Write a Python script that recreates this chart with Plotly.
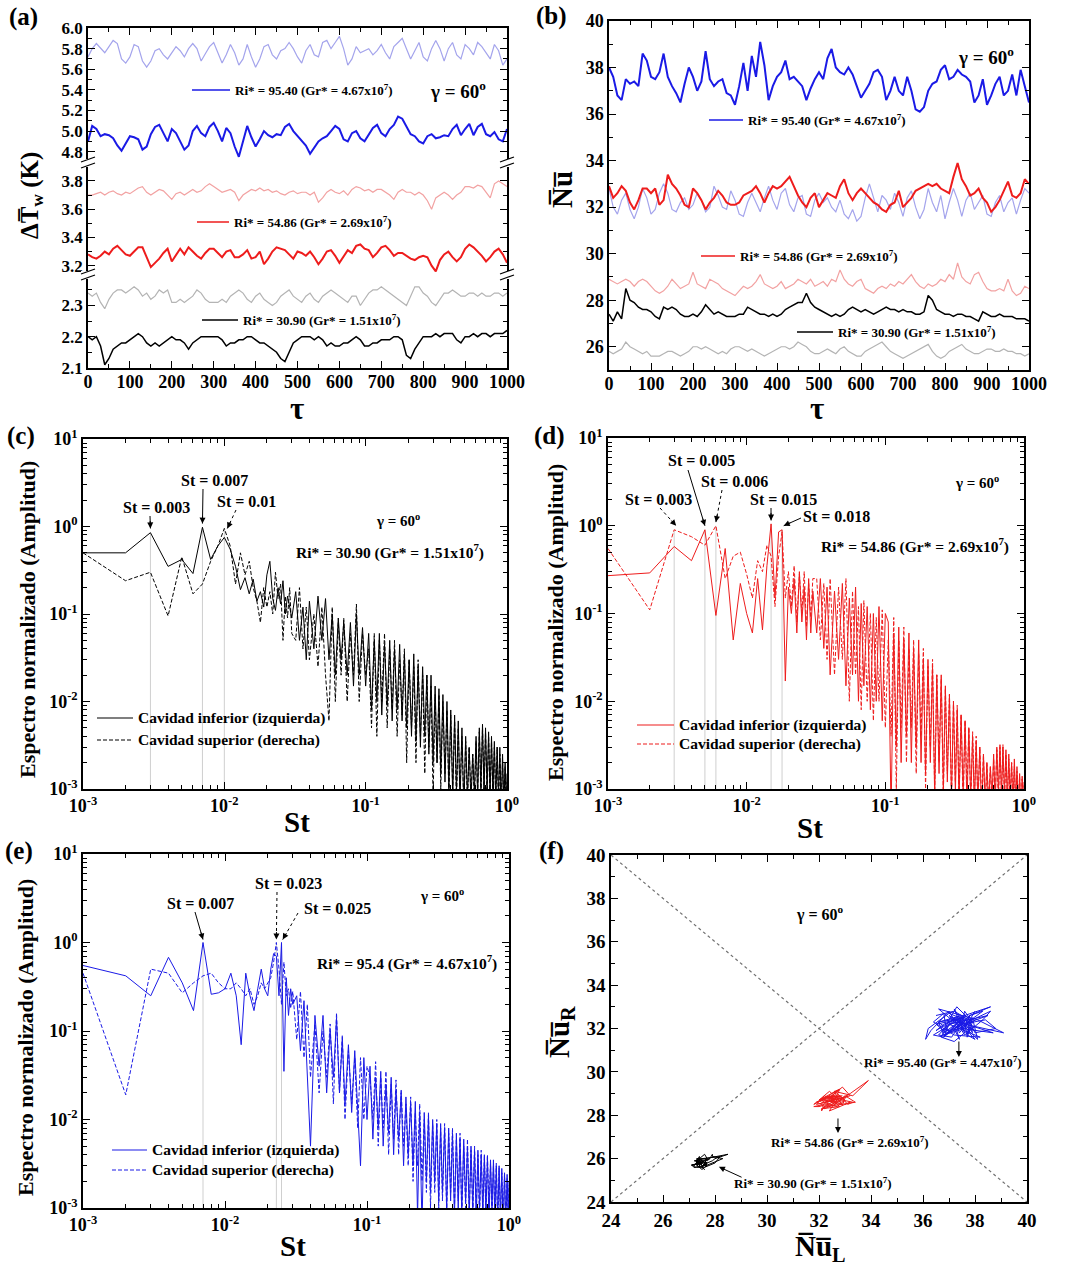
import math
import plotly.graph_objects as go

W, H = 1066, 1270
FONT = "Liberation Serif"

# ---------------- time series (tau step 10) ----------------
TAU = list(range(0, 1001, 10))

# Panel (a): wall temperature difference
dT95_R = [5.72, 5.80, 5.85, 5.80, 5.76, 5.82, 5.88, 5.85, 5.70, 5.66,
          5.72, 5.84, 5.82, 5.68, 5.62, 5.68, 5.78, 5.80, 5.74, 5.70,
          5.76, 5.82, 5.78, 5.72, 5.80, 5.85, 5.80, 5.68, 5.75, 5.82,
          5.86, 5.76, 5.66, 5.74, 5.84, 5.76, 5.64, 5.70, 5.84, 5.72,
          5.62, 5.70, 5.82, 5.84, 5.74, 5.70, 5.78, 5.80, 5.86, 5.80,
          5.72, 5.66, 5.78, 5.84, 5.74, 5.72, 5.86, 5.88, 5.80, 5.86,
          5.92, 5.80, 5.64, 5.70, 5.82, 5.76, 5.78, 5.80, 5.74, 5.78,
          5.84, 5.76, 5.70, 5.82, 5.86, 5.90, 5.80, 5.70, 5.78, 5.86,
          5.72, 5.68, 5.80, 5.88, 5.80, 5.68, 5.80, 5.86, 5.74, 5.70,
          5.84, 5.80, 5.74, 5.86, 5.82, 5.76, 5.70, 5.84, 5.78, 5.64,
          5.70]
dT95_L = [4.90, 5.05, 5.02, 4.95, 4.97, 4.96, 4.93, 4.86, 4.81, 4.88,
          4.95, 4.94, 4.92, 4.82, 4.85, 4.97, 5.04, 5.06, 4.98, 4.90,
          5.02, 4.98, 4.90, 4.82, 4.86, 5.00, 5.05, 4.98, 4.95, 5.04,
          5.08, 5.00, 4.90, 5.03, 4.98, 4.85, 4.75, 4.90, 5.05, 4.94,
          4.85, 4.92, 5.00, 4.96, 4.94, 4.97, 4.96, 5.04, 5.07, 5.00,
          4.95, 4.90, 4.86, 4.78, 4.84, 4.90, 4.93, 4.95, 5.00, 5.05,
          5.02, 4.92, 4.90, 4.98, 5.00, 4.93, 4.90, 4.97, 5.03, 5.06,
          4.98, 4.95, 5.02, 5.06, 5.14, 5.12, 5.05, 4.97, 4.95, 4.90,
          4.88, 4.95, 4.97, 4.93, 4.94, 4.96, 4.95, 5.02, 5.06, 4.96,
          5.02, 5.07, 4.96, 5.04, 5.07, 4.97, 4.95, 4.99, 4.92, 4.90,
          5.02]
dT54_R = [3.70, 3.70, 3.71, 3.72, 3.70, 3.72, 3.73, 3.71, 3.70, 3.72,
          3.71, 3.73, 3.75, 3.76, 3.72, 3.70, 3.72, 3.74, 3.73, 3.70,
          3.67, 3.71, 3.72, 3.70, 3.72, 3.74, 3.72, 3.73, 3.76, 3.78,
          3.76, 3.74, 3.72, 3.73, 3.74, 3.72, 3.66, 3.70, 3.72, 3.74,
          3.73, 3.75, 3.73, 3.74, 3.72, 3.73, 3.71, 3.70, 3.72, 3.73,
          3.71, 3.72, 3.72, 3.70, 3.72, 3.65, 3.68, 3.72, 3.74, 3.72,
          3.71, 3.73, 3.70, 3.74, 3.76, 3.75, 3.73, 3.74, 3.72, 3.74,
          3.74, 3.72, 3.70, 3.67, 3.72, 3.74, 3.72, 3.72, 3.70, 3.72,
          3.70, 3.66, 3.60, 3.68, 3.70, 3.72, 3.70, 3.67, 3.70, 3.72,
          3.76, 3.76, 3.75, 3.77, 3.76, 3.72, 3.68, 3.78, 3.80, 3.78,
          3.76]
dT54_L = [3.28, 3.26, 3.25, 3.27, 3.30, 3.28, 3.32, 3.34, 3.31, 3.28,
          3.27, 3.30, 3.33, 3.33, 3.26, 3.19, 3.22, 3.25, 3.29, 3.32,
          3.23, 3.28, 3.32, 3.28, 3.33, 3.30, 3.27, 3.25, 3.29, 3.32,
          3.32, 3.29, 3.26, 3.30, 3.31, 3.26, 3.26, 3.28, 3.31, 3.25,
          3.26, 3.30, 3.21, 3.25, 3.30, 3.33, 3.32, 3.31, 3.28, 3.25,
          3.30, 3.29, 3.27, 3.30, 3.26, 3.21, 3.25, 3.30, 3.31, 3.27,
          3.22, 3.27, 3.31, 3.29, 3.34, 3.35, 3.32, 3.31, 3.26, 3.29,
          3.33, 3.34, 3.31, 3.27, 3.29, 3.29, 3.27, 3.25, 3.24, 3.26,
          3.27, 3.26, 3.20, 3.16, 3.24, 3.28, 3.30, 3.26, 3.23, 3.26,
          3.32, 3.35, 3.33, 3.30, 3.27, 3.23, 3.26, 3.30, 3.32, 3.28,
          3.22]
dT30_R = [2.34, 2.33, 2.34, 2.31, 2.29, 2.32, 2.34, 2.35, 2.35, 2.34,
          2.35, 2.36, 2.35, 2.33, 2.34, 2.32, 2.33, 2.35, 2.34, 2.35,
          2.31, 2.31, 2.32, 2.31, 2.32, 2.33, 2.35, 2.34, 2.32, 2.31,
          2.31, 2.31, 2.32, 2.31, 2.33, 2.34, 2.35, 2.34, 2.32, 2.31,
          2.33, 2.34, 2.32, 2.31, 2.30, 2.31, 2.33, 2.34, 2.35, 2.33,
          2.32, 2.31, 2.33, 2.34, 2.32, 2.31, 2.33, 2.34, 2.35, 2.34,
          2.33, 2.32, 2.31, 2.33, 2.33, 2.30, 2.32, 2.34, 2.35, 2.35,
          2.36, 2.35, 2.34, 2.33, 2.32, 2.31, 2.30, 2.33, 2.36, 2.36,
          2.34, 2.33, 2.31, 2.30, 2.32, 2.34, 2.34, 2.35, 2.34, 2.33,
          2.33, 2.34, 2.34, 2.33, 2.34, 2.33, 2.33, 2.34, 2.34, 2.33,
          2.34]
dT30_L = [2.20, 2.19, 2.20, 2.17, 2.11, 2.13, 2.16, 2.17, 2.18, 2.18,
          2.19, 2.20, 2.21, 2.20, 2.18, 2.17, 2.18, 2.17, 2.18, 2.19,
          2.20, 2.19, 2.19, 2.18, 2.16, 2.18, 2.19, 2.20, 2.20, 2.20,
          2.20, 2.20, 2.19, 2.17, 2.18, 2.18, 2.19, 2.19, 2.20, 2.20,
          2.19, 2.18, 2.18, 2.17, 2.16, 2.15, 2.13, 2.12, 2.15, 2.18,
          2.19, 2.20, 2.20, 2.20, 2.19, 2.20, 2.19, 2.17, 2.18, 2.17,
          2.17, 2.18, 2.18, 2.19, 2.20, 2.19, 2.17, 2.17, 2.18, 2.18,
          2.19, 2.19, 2.19, 2.20, 2.20, 2.19, 2.14, 2.13, 2.16, 2.18,
          2.20, 2.20, 2.20, 2.21, 2.20, 2.21, 2.21, 2.21, 2.19, 2.18,
          2.20, 2.20, 2.21, 2.20, 2.21, 2.21, 2.20, 2.21, 2.21, 2.21,
          2.22]

# Panel (b): Nusselt numbers (L = lower/left cavity, R = upper/right cavity)
Nu95_L = [38.0, 37.6, 36.8, 36.6, 37.5, 37.3, 37.4, 37.2, 38.6, 38.3,
          37.6, 37.5, 37.8, 38.6, 37.6, 37.2, 36.9, 36.5, 37.3, 38.0,
          37.6, 37.0, 37.4, 38.7, 37.5, 37.2, 37.4, 37.5, 36.9, 36.8,
          36.4, 37.2, 38.2, 37.0, 38.5, 37.6, 39.1, 38.1, 36.6, 37.2,
          37.6, 37.8, 38.3, 37.5, 37.6, 37.4, 37.2, 36.6, 37.1, 37.5,
          37.8, 37.5, 38.4, 38.8, 38.0, 37.8, 37.7, 38.0, 37.7, 37.2,
          36.7, 37.0, 37.3, 37.8, 37.9, 37.6, 36.6, 37.0, 37.6, 37.0,
          36.8, 37.6, 37.0, 36.2, 36.1, 36.3, 37.0, 37.3, 37.4, 37.9,
          38.1, 37.5, 37.6, 37.9, 37.7, 37.6, 37.4, 36.5, 36.8, 37.5,
          36.4, 36.8, 37.3, 37.6, 36.8, 37.0, 37.7, 36.8, 37.9, 37.2,
          36.5]
Nu95_R = [32.8, 32.0, 31.7, 32.3, 32.6, 31.9, 31.5, 32.0, 32.8, 32.4,
          31.7, 31.9, 32.6, 33.0, 32.6, 31.9, 31.8, 32.2, 32.4, 31.9,
          32.1, 32.6, 32.3, 31.8, 32.0, 32.9, 32.5, 32.0, 31.9, 32.7,
          32.3, 31.7, 31.6, 32.2, 32.6, 32.2, 31.8, 32.4, 32.9, 32.3,
          31.9, 32.6, 32.8, 32.1, 31.8, 32.4, 32.5, 31.7, 31.6, 32.3,
          32.6, 32.2, 32.4, 32.0, 31.8, 32.3, 31.7, 31.5, 31.9, 31.4,
          31.6, 32.4, 33.0, 32.4, 31.8, 32.5, 32.3, 31.9, 32.6, 32.2,
          31.6, 32.4, 32.7, 32.0, 31.5, 31.9, 32.8, 32.2, 31.8, 32.5,
          31.5, 32.2, 32.8, 32.3, 31.6, 32.3, 32.6, 31.9, 32.2, 32.5,
          31.7, 31.6, 32.2, 32.5, 31.8, 32.2, 32.4, 31.7, 32.3, 32.8,
          32.6]
Nu54_L = [32.9, 32.4, 32.6, 32.9, 32.7, 32.2, 31.9, 32.3, 32.8, 32.8,
          32.6, 32.8, 32.1, 32.3, 33.4, 33.0, 32.8, 32.5, 32.1, 32.0,
          32.8, 32.6, 32.3, 31.9, 32.2, 32.4, 32.7, 32.5, 32.2, 32.1,
          32.1, 32.2, 32.5, 32.6, 32.7, 32.9, 32.6, 32.2, 32.6, 32.9,
          32.8, 32.9, 33.1, 33.3, 32.9, 32.5, 32.2, 32.0, 32.4, 32.6,
          32.0, 32.3, 32.6, 32.5, 32.4, 32.9, 33.2, 32.6, 32.3, 32.6,
          32.8, 32.6, 32.4, 32.2, 32.1, 31.9, 31.8, 32.1, 32.2, 32.7,
          32.0, 32.2, 32.4, 32.7, 32.8, 32.9, 33.0, 32.9, 33.0, 32.8,
          32.7, 32.6, 33.3, 33.9, 33.2, 32.9, 32.5, 32.6, 32.8, 32.4,
          32.2, 31.8, 32.0, 32.3, 32.7, 33.1, 32.5, 32.4, 32.6, 33.2,
          33.0]
Nu54_R = [28.9, 28.8, 28.7, 28.8, 28.9, 28.8, 28.6, 28.8, 28.9, 28.8,
          28.6, 28.4, 28.3, 28.4, 28.6, 28.9, 28.7, 28.5, 28.6, 28.7,
          29.2, 28.7, 28.6, 28.5, 28.9, 28.8, 28.7, 28.5, 28.4, 28.3,
          28.2, 28.4, 28.6, 28.5, 28.6, 28.8, 29.1, 28.7, 28.6, 28.5,
          28.6, 28.8, 28.5, 28.6, 28.7, 28.9, 28.8, 28.7, 28.9, 28.6,
          28.7, 28.8, 28.6, 28.9, 28.8, 29.3, 28.9, 28.7, 28.6, 28.8,
          28.9, 28.5, 28.4, 28.3, 28.5, 28.6, 28.5, 28.7, 28.6, 28.8,
          28.7, 28.9, 29.1, 28.8, 28.6, 28.5, 28.7, 28.6, 28.7, 28.9,
          28.8, 29.1, 28.9, 29.6, 29.0, 28.8, 28.7, 29.1, 29.2, 28.8,
          28.5, 28.4, 28.4, 28.5, 28.4, 28.9, 28.4, 28.2, 28.3, 28.6,
          28.5]
Nu30_L = [27.4, 27.1, 27.5, 27.2, 28.5, 28.0, 27.9, 27.7, 27.6, 27.6,
          27.5, 27.3, 27.2, 27.7, 27.6, 27.7, 27.6, 27.4, 27.3, 27.3,
          27.4, 27.3, 27.5, 27.8, 27.6, 27.4, 27.5, 27.4, 27.3, 27.3,
          27.3, 27.4, 27.4, 27.7, 27.6, 27.5, 27.4, 27.4, 27.3, 27.4,
          27.3, 27.4, 27.6, 27.7, 27.8, 27.9, 27.9, 28.3, 27.9, 27.7,
          27.6, 27.5, 27.4, 27.3, 27.4, 27.3, 27.4, 27.6, 27.7, 27.6,
          27.5, 27.6, 27.5, 27.4, 27.5, 27.6, 27.7, 27.6, 27.6, 27.5,
          27.6, 27.5, 27.5, 27.4, 27.4, 27.5, 28.2, 28.0, 27.6, 27.5,
          27.4, 27.4, 27.3, 27.4, 27.4, 27.3, 27.3, 27.2, 27.1, 27.5,
          27.4, 27.3, 27.3, 27.4, 27.3, 27.3, 27.3, 27.2, 27.2, 27.2,
          27.1]
Nu30_R = [25.8, 25.7, 25.8, 25.9, 26.2, 26.0, 25.9, 25.8, 25.7, 25.8,
          25.6, 25.6, 25.6, 25.7, 25.8, 25.8, 25.7, 25.6, 25.7, 25.8,
          26.0, 26.0, 25.9, 26.0, 25.9, 25.8, 25.7, 25.8, 25.7, 25.9,
          26.0, 26.0, 25.9, 25.8, 25.9, 25.8, 25.7, 25.6, 25.7, 25.8,
          25.9, 26.0, 26.0, 25.9, 26.0, 26.2, 26.1, 26.0, 25.8, 25.7,
          25.7, 25.8, 25.9, 25.8, 25.7, 25.9, 26.0, 25.8, 25.7, 25.6,
          25.6, 25.8, 25.9, 26.0, 26.1, 26.2, 26.0, 25.8, 25.7, 25.6,
          25.5, 25.6, 25.7, 25.8, 25.9, 26.0, 26.1, 25.8, 25.6, 25.5,
          25.6, 25.8, 25.9, 26.0, 26.1, 25.9, 25.8, 25.7, 25.7, 25.8,
          25.9, 25.9, 25.8, 25.8, 25.9, 25.8, 25.8, 25.7, 25.7, 25.6,
          25.7]

# ---------------- spectra ----------------
ST = ([0.001, 0.002, 0.003, 0.004, 0.005, 0.006, 0.007, 0.008, 0.009, 0.010,
       0.011, 0.012, 0.013, 0.014, 0.015, 0.016, 0.017, 0.018, 0.019, 0.020,
       0.021, 0.022, 0.023, 0.024, 0.025, 0.026, 0.027, 0.028, 0.029, 0.030] +
      [0.032, 0.034, 0.036, 0.038, 0.040, 0.043, 0.046, 0.049, 0.052, 0.055,
       0.058, 0.061, 0.064, 0.067, 0.070, 0.074, 0.078, 0.082, 0.086, 0.090,
       0.095, 0.100] +
      [0.105, 0.110, 0.115, 0.120, 0.125, 0.130, 0.136, 0.142, 0.148, 0.154,
       0.160, 0.167, 0.174, 0.181, 0.188, 0.195, 0.203, 0.211, 0.219, 0.227,
       0.235, 0.244, 0.253, 0.262, 0.271, 0.280, 0.290, 0.300, 0.310, 0.320,
       0.330, 0.340, 0.352, 0.364, 0.376, 0.388, 0.400, 0.413, 0.426, 0.439,
       0.452, 0.465, 0.480, 0.495, 0.510, 0.525, 0.540, 0.556, 0.572, 0.588,
       0.604, 0.620, 0.637, 0.654, 0.671, 0.688, 0.705, 0.723, 0.741, 0.759,
       0.777, 0.795, 0.814, 0.833, 0.852, 0.871, 0.890, 0.910, 0.930, 0.950,
       0.970, 0.990, 1.000])

S30_inf = ([0.50, 0.50, 0.85, 0.35, 0.42, 0.29, 0.98, 0.42, 0.60, 0.75,
            0.55, 0.35, 0.19, 0.26, 0.17, 0.25, 0.14, 0.18, 0.12, 0.28,
            0.40, 0.15, 0.11, 0.20, 0.13, 0.24, 0.10, 0.16, 0.12, 0.09] +
           [0.18, 0.05, 0.12, 0.03, 0.14, 0.04, 0.16, 0.05, 0.15, 0.03,
            0.10, 0.02, 0.09, 0.03, 0.08, 0.02, 0.08, 0.015, 0.10, 0.02,
            0.07, 0.015] +
           [0.06, 0.008, 0.05, 0.01, 0.06, 0.007, 0.045, 0.009, 0.05, 0.006,
            0.04, 0.008, 0.045, 0.006, 0.035, 0.005, 0.03, 0.004, 0.035, 0.0035,
            0.025, 0.003, 0.025, 0.004, 0.02, 0.0025, 0.02, 0.002, 0.015, 0.002,
            0.014, 0.0015, 0.012, 0.0012, 0.010, 0.001, 0.008, 0.0008, 0.007, 0.0009,
            0.006, 0.0007, 0.005, 0.0006, 0.004, 0.0008, 0.003, 0.0007, 0.0025, 0.0009,
            0.004, 0.0008, 0.005, 0.001, 0.0055, 0.0009, 0.005, 0.001, 0.0045, 0.0008,
            0.004, 0.0009, 0.0035, 0.0007, 0.003, 0.0008, 0.003, 0.0006, 0.0025, 0.0007,
            0.002, 0.0006, 0.0015])
S30_sup = ([0.50, 0.24, 0.30, 0.095, 0.45, 0.17, 0.22, 0.40, 0.60, 0.95,
            0.60, 0.22, 0.50, 0.28, 0.40, 0.20, 0.14, 0.08, 0.20, 0.12,
            0.18, 0.10, 0.30, 0.15, 0.22, 0.05, 0.16, 0.09, 0.20, 0.06] +
           [0.05, 0.20, 0.04, 0.12, 0.03, 0.10, 0.025, 0.12, 0.02, 0.006,
            0.12, 0.01, 0.08, 0.02, 0.09, 0.01, 0.06, 0.02, 0.13, 0.01,
            0.06, 0.02] +
           [0.04, 0.005, 0.06, 0.004, 0.05, 0.01, 0.06, 0.005, 0.04, 0.008,
            0.05, 0.004, 0.03, 0.007, 0.04, 0.002, 0.03, 0.005, 0.025, 0.002,
            0.03, 0.004, 0.02, 0.0015, 0.02, 0.003, 0.015, 0.0008, 0.012, 0.002,
            0.012, 0.001, 0.010, 0.0015, 0.008, 0.0008, 0.007, 0.001, 0.006, 0.0007,
            0.005, 0.0009, 0.004, 0.0006, 0.0035, 0.0007, 0.003, 0.0008, 0.0025, 0.0007,
            0.0035, 0.0009, 0.0045, 0.0008, 0.005, 0.001, 0.0045, 0.0008, 0.004, 0.0009,
            0.0035, 0.0007, 0.003, 0.0008, 0.003, 0.0006, 0.0025, 0.0007, 0.002, 0.0006,
            0.0018, 0.0005, 0.0012])

S54_inf = ([0.27, 0.29, 0.58, 0.40, 0.90, 0.095, 0.55, 0.05, 0.22, 0.10,
            0.06, 0.25, 0.065, 0.35, 1.05, 0.15, 0.85, 0.90, 0.017, 0.20,
            0.10, 0.25, 0.06, 0.30, 0.08, 0.20, 0.05, 0.25, 0.06, 0.18] +
           [0.06, 0.25, 0.04, 0.20, 0.02, 0.18, 0.03, 0.22, 0.015, 0.15,
            0.02, 0.20, 0.01, 0.13, 0.015, 0.12, 0.008, 0.10, 0.01, 0.12,
            0.006, 0.10] +
           [0.08, 0.0005, 0.06, 0.003, 0.07, 0.002, 0.05, 0.004, 0.06, 0.002,
            0.04, 0.003, 0.05, 0.002, 0.03, 0.0015, 0.03, 0.002, 0.025, 0.0008,
            0.02, 0.0015, 0.02, 0.001, 0.015, 0.0012, 0.012, 0.0008, 0.01, 0.0009,
            0.008, 0.0007, 0.007, 0.0009, 0.006, 0.0006, 0.005, 0.0008, 0.004, 0.0006,
            0.0035, 0.0007, 0.003, 0.0005, 0.0025, 0.0007, 0.002, 0.0006, 0.0018, 0.0008,
            0.0025, 0.0007, 0.003, 0.0009, 0.0032, 0.0008, 0.003, 0.0009, 0.0028, 0.0007,
            0.0025, 0.0008, 0.002, 0.0006, 0.0022, 0.0007, 0.0018, 0.0006, 0.0015, 0.0005,
            0.0014, 0.0006, 0.0012])
S54_sup = ([0.55, 0.11, 0.90, 0.75, 0.60, 1.00, 0.25, 0.45, 0.50, 0.28,
            0.15, 0.40, 0.30, 0.60, 0.45, 0.12, 0.45, 0.85, 0.15, 0.30,
            0.12, 0.35, 0.08, 0.28, 0.10, 0.30, 0.07, 0.22, 0.09, 0.25] +
           [0.25, 0.05, 0.22, 0.03, 0.25, 0.02, 0.20, 0.03, 0.25, 0.01,
            0.18, 0.02, 0.12, 0.008, 0.14, 0.01, 0.10, 0.006, 0.09, 0.01,
            0.11, 0.005] +
           [0.05, 0.004, 0.09, 0.001, 0.05, 0.005, 0.07, 0.002, 0.04, 0.005,
            0.05, 0.0015, 0.035, 0.004, 0.04, 0.001, 0.025, 0.003, 0.03, 0.0009,
            0.02, 0.002, 0.018, 0.0008, 0.014, 0.0015, 0.012, 0.0007, 0.01, 0.0012,
            0.009, 0.0008, 0.007, 0.0006, 0.006, 0.0009, 0.005, 0.0006, 0.0045, 0.0008,
            0.004, 0.0006, 0.003, 0.0007, 0.0025, 0.0005, 0.002, 0.0007, 0.0018, 0.0006,
            0.0022, 0.0008, 0.0028, 0.0007, 0.003, 0.0009, 0.0032, 0.0007, 0.0025, 0.0008,
            0.0022, 0.0006, 0.002, 0.0007, 0.0018, 0.0006, 0.0016, 0.0007, 0.0014, 0.0006,
            0.0013, 0.0005, 0.0011])

S95_inf = ([0.55, 0.42, 0.25, 0.68, 0.35, 0.17, 1.00, 0.26, 0.27, 0.30,
            0.45, 0.25, 0.07, 0.45, 0.25, 0.17, 0.30, 0.50, 0.30, 0.25,
            0.50, 0.75, 0.70, 0.25, 1.00, 0.035, 0.40, 0.15, 0.30, 0.20] +
           [0.25, 0.06, 0.22, 0.03, 0.005, 0.15, 0.04, 0.15, 0.02, 0.10,
            0.03, 0.14, 0.02, 0.08, 0.015, 0.07, 0.012, 0.06, 0.015, 0.003,
            0.05, 0.01] +
           [0.04, 0.006, 0.03, 0.008, 0.035, 0.005, 0.025, 0.007, 0.03, 0.004,
            0.022, 0.006, 0.02, 0.003, 0.018, 0.004, 0.015, 0.003, 0.016, 0.0008,
            0.012, 0.0006, 0.012, 0.002, 0.011, 0.0015, 0.01, 0.002, 0.009, 0.0012,
            0.009, 0.0015, 0.008, 0.001, 0.008, 0.0012, 0.007, 0.0008, 0.007, 0.001,
            0.006, 0.0009, 0.006, 0.0012, 0.005, 0.0008, 0.005, 0.001, 0.0045, 0.0007,
            0.0045, 0.001, 0.004, 0.0008, 0.004, 0.0009, 0.0038, 0.0007, 0.0035, 0.001,
            0.0035, 0.0008, 0.003, 0.0007, 0.003, 0.0008, 0.0028, 0.0006, 0.0025, 0.0007,
            0.0024, 0.0006, 0.002])
S95_sup = ([0.45, 0.019, 0.50, 0.45, 0.27, 0.35, 0.42, 0.45, 0.35, 0.30,
            0.30, 0.35, 0.30, 0.25, 0.30, 0.20, 0.25, 0.35, 0.30, 0.35,
            0.40, 0.60, 1.00, 0.50, 0.20, 0.60, 0.25, 0.30, 0.18, 0.28] +
           [0.08, 0.28, 0.05, 0.20, 0.03, 0.12, 0.02, 0.10, 0.03, 0.12,
            0.015, 0.16, 0.02, 0.09, 0.01, 0.06, 0.015, 0.05, 0.008, 0.05,
            0.01, 0.04] +
           [0.03, 0.01, 0.045, 0.005, 0.03, 0.008, 0.035, 0.004, 0.025, 0.006,
            0.028, 0.004, 0.022, 0.005, 0.015, 0.003, 0.018, 0.002, 0.012, 0.003,
            0.015, 0.002, 0.01, 0.0015, 0.012, 0.001, 0.009, 0.0015, 0.01, 0.001,
            0.008, 0.0012, 0.009, 0.0009, 0.007, 0.0015, 0.008, 0.001, 0.006, 0.0012,
            0.007, 0.0008, 0.005, 0.001, 0.006, 0.0009, 0.0045, 0.0008, 0.005, 0.001,
            0.004, 0.0007, 0.0045, 0.001, 0.0038, 0.0008, 0.004, 0.0009, 0.0032, 0.0007,
            0.003, 0.0009, 0.0032, 0.0006, 0.0028, 0.0008, 0.0025, 0.0007, 0.0024, 0.0006,
            0.0022, 0.0007, 0.0018])

# ---------------- colours ----------------
BLUE, LBLUE = "#1a1ae6", "#a4a4ec"
RED, LRED = "#ee1c1c", "#f2a2a2"
BLACK, GRAY = "#000000", "#b4b4b4"
DASH = "4px,2px"

# ---------------- helpers ----------------
def px(x):
    return x / W

def py(y):
    return 1 - y / H

annotations = []
shapes = []

def text(xp, yp, s, size, xanchor="center", angle=0):
    annotations.append(dict(x=px(xp), y=py(yp), xref="paper", yref="paper",
                            text="<b>%s</b>" % s, showarrow=False,
                            font=dict(family=FONT, size=size, color="black"),
                            xanchor=xanchor, yanchor="middle", textangle=angle))

def seg(x0, y0, x1, y1, color="black", width=1.5, dash="solid"):
    shapes.append(dict(type="line", xref="paper", yref="paper",
                       x0=px(x0), y0=py(y0), x1=px(x1), y1=py(y1),
                       line=dict(color=color, width=width, dash=dash)))

def legend_line(x0, x1, y, color, label, size, dash="solid", width=1.5):
    seg(x0, y, x1, y, color=color, width=width, dash=dash)
    text(x1 + 3, y, label, size, xanchor="left")

TF = dict(family=FONT, size=18, color="black", weight="bold")

def axis(**kw):
    d = dict(showline=True, linecolor="black", linewidth=1.5, ticks="inside",
             ticklen=7, tickwidth=1.3, tickcolor="black", mirror="ticks",
             showgrid=False, zeroline=False, tickfont=TF, automargin=False)
    d.update(kw)
    return d

def minor(dtick=None, tickvals=None):
    m = dict(ticks="inside", ticklen=4, tickwidth=1.1, tickcolor="black", showgrid=False)
    if dtick is not None:
        m["dtick"] = dtick
        m["tick0"] = 0
    if tickvals is not None:
        m["tickvals"] = tickvals
    return m

def dom_x(l, r):
    return [l / W, r / W]

def dom_y(t, b):
    return [1 - b / H, 1 - t / H]

fig = go.Figure()

def line(x, y, xa, ya, color, width, dash="solid"):
    fig.add_trace(go.Scatter(x=x, y=y, xaxis=xa, yaxis=ya, mode="lines",
                             line=dict(color=color, width=width, dash=dash),
                             showlegend=False, hoverinfo="skip"))

# ---------------- panel (a) ----------------
line(TAU, dT95_R, "x", "y", LBLUE, 1.2)
line(TAU, dT95_L, "x", "y", BLUE, 2.0)
line(TAU, dT54_R, "x2", "y2", LRED, 1.2)
line(TAU, dT54_L, "x2", "y2", RED, 2.0)
line(TAU, dT30_R, "x3", "y3", GRAY, 1.2)
line(TAU, dT30_L, "x3", "y3", BLACK, 1.5)

# ---------------- panel (b) ----------------
line(TAU, Nu95_L, "x4", "y4", BLUE, 2.0)
line(TAU, Nu95_R, "x4", "y4", LBLUE, 1.2)
line(TAU, Nu54_R, "x4", "y4", LRED, 1.2)
line(TAU, Nu54_L, "x4", "y4", RED, 2.0)
line(TAU, Nu30_R, "x4", "y4", GRAY, 1.2)
line(TAU, Nu30_L, "x4", "y4", BLACK, 1.5)

# ---------------- spectra (c), (d), (e) ----------------
LOGP = {"c": (83, 507, 439, 789, "x5", "y5"),
        "d": (608, 1024, 438, 789, "x6", "y6"),
        "e": (83, 509, 854, 1208, "x7", "y7")}

def faint(panel, st, inf, sup):
    i = ST.index(st)
    top = max(inf[i], sup[i])
    xa, ya = LOGP[panel][4], LOGP[panel][5]
    line([st, st], [top, 0.0009], xa, ya, "#cfcfcf", 1)

def spec_arrow(panel, st, amp, tx, ty, sx, sy, label, dotted):
    L, R, T, B, xr, yr = LOGP[panel]
    X = L + (math.log10(st) + 3) / 3 * (R - L)
    Y = T + (1 - math.log10(amp)) / 4 * (B - T)
    seg(sx, sy, X, Y, width=1, dash="dot" if dotted else "solid")
    dx, dy = sx - X, sy - Y
    n = math.hypot(dx, dy)
    annotations.append(dict(x=math.log10(st), y=math.log10(amp), xref=xr, yref=yr,
                            text="", showarrow=True, arrowhead=2, arrowsize=1.2,
                            arrowwidth=1, arrowcolor="black",
                            ax=dx / n * 9, ay=dy / n * 9, standoff=0))
    text(tx, ty, label, 16)

for st in (0.003, 0.007, 0.010):
    faint("c", st, S30_inf, S30_sup)
for st in (0.003, 0.005, 0.006, 0.015, 0.018):
    faint("d", st, S54_inf, S54_sup)
for st in (0.007, 0.023, 0.025):
    faint("e", st, S95_inf, S95_sup)

line(ST, S30_sup, "x5", "y5", BLACK, 1, DASH)
line(ST, S30_inf, "x5", "y5", BLACK, 1)
line(ST, S54_sup, "x6", "y6", RED, 1, DASH)
line(ST, S54_inf, "x6", "y6", RED, 1)
line(ST, S95_sup, "x7", "y7", BLUE, 1, DASH)
line(ST, S95_inf, "x7", "y7", BLUE, 1)

# ---------------- panel (f) ----------------
line(Nu95_L, Nu95_R, "x8", "y8", BLUE, 1)
line(Nu54_L, Nu54_R, "x8", "y8", RED, 1)
line(Nu30_L, Nu30_R, "x8", "y8", BLACK, 1)
for (a0, b0, a1, b1) in ((24, 24, 40, 40), (24, 40, 40, 24)):
    shapes.append(dict(type="line", xref="x8", yref="y8", x0=a0, y0=b0, x1=a1, y1=b1,
                       line=dict(color="#707070", width=1.2, dash="dot"), layer="below"))

# ---------------- axes ----------------
XA = dom_x(88, 507)
LOG_TV = [0.001, 0.01, 0.1, 1, 10]
LOG_TT = ["10<sup>-3</sup>", "10<sup>-2</sup>", "10<sup>-1</sup>", "10<sup>0</sup>", "10<sup>1</sup>"]
LOG_MINOR = [m * 10 ** e for e in range(-3, 1) for m in range(2, 10)]
LTF = dict(TF, size=18)

lay = dict(
    width=W, height=H, margin=dict(l=0, r=0, t=0, b=0, autoexpand=False),
    paper_bgcolor="white", plot_bgcolor="white", showlegend=False,
    font=dict(family=FONT, color="black"),
    # (a)
    xaxis=axis(domain=XA, anchor="y", range=[0, 1000], side="top", mirror=False,
               showticklabels=False, dtick=100, tick0=0, minor=minor(50)),
    yaxis=axis(domain=dom_y(28, 163), anchor="x", range=[4.69, 6.0005], dtick=0.2, tick0=0,
               tickformat=".1f", minor=minor(0.1), tickfont=dict(TF, size=17)),
    xaxis2=dict(domain=XA, anchor="y2", range=[0, 1000], visible=False),
    yaxis2=axis(domain=dom_y(163, 275), anchor="x2", range=[3.134, 3.927], dtick=0.2, tick0=0,
                tickformat=".1f", minor=minor(0.1), tickfont=dict(TF, size=17)),
    xaxis3=axis(domain=XA, anchor="y3", range=[0, 1000], mirror=False, dtick=100, tick0=0,
                minor=minor(50), ticklabelstandoff=-3),
    yaxis3=axis(domain=dom_y(275, 368), anchor="x3", range=[2.0995, 2.398], dtick=0.1, tick0=0,
                tickformat=".1f", minor=minor(0.05), tickfont=dict(TF, size=17)),
    # (b)
    xaxis4=axis(domain=dom_x(609, 1029), anchor="y4", range=[0, 1000], dtick=100, tick0=0,
                minor=minor(50), ticklabelstandoff=-3),
    yaxis4=axis(domain=dom_y(21, 370), anchor="x4", range=[25, 40], dtick=2, tick0=0,
                minor=minor(1)),
    # (c)
    xaxis5=axis(domain=dom_x(83, 507), anchor="y5", type="log", range=[-3, 0],
                tickvals=LOG_TV, ticktext=LOG_TT, minor=minor(tickvals=LOG_MINOR), tickfont=LTF),
    yaxis5=axis(domain=dom_y(439, 789), anchor="x5", type="log", range=[-3, 1],
                tickvals=LOG_TV, ticktext=LOG_TT, minor=minor(tickvals=LOG_MINOR), tickfont=LTF),
    # (d)
    xaxis6=axis(domain=dom_x(608, 1024), anchor="y6", type="log", range=[-3, 0],
                tickvals=LOG_TV, ticktext=LOG_TT, minor=minor(tickvals=LOG_MINOR), tickfont=LTF),
    yaxis6=axis(domain=dom_y(438, 789), anchor="x6", type="log", range=[-3, 1],
                tickvals=LOG_TV, ticktext=LOG_TT, minor=minor(tickvals=LOG_MINOR), tickfont=LTF),
    # (e)
    xaxis7=axis(domain=dom_x(83, 509), anchor="y7", type="log", range=[-3, 0],
                tickvals=LOG_TV, ticktext=LOG_TT, minor=minor(tickvals=LOG_MINOR), tickfont=LTF),
    yaxis7=axis(domain=dom_y(854, 1208), anchor="x7", type="log", range=[-3, 1],
                tickvals=LOG_TV, ticktext=LOG_TT, minor=minor(tickvals=LOG_MINOR), tickfont=LTF),
    # (f)
    xaxis8=axis(domain=dom_x(611, 1027), anchor="y8", range=[24, 40], dtick=2, tick0=0,
                minor=minor(1), tickfont=dict(TF, size=19)),
    yaxis8=axis(domain=dom_y(855, 1202), anchor="x8", range=[24, 40], dtick=2, tick0=0,
                minor=minor(1), tickfont=dict(TF, size=19)),
)

# axis breaks in (a)
for yb in (163, 275):
    for xb in (88, 507):
        shapes.append(dict(type="rect", xref="paper", yref="paper",
                           x0=px(xb - 7), x1=px(xb + 7), y0=py(yb + 4), y1=py(yb - 4),
                           fillcolor="white", line=dict(width=0)))
        seg(xb - 7, yb - 1, xb + 7, yb - 6, width=1.3)
        seg(xb - 7, yb + 5, xb + 7, yb, width=1.3)

# ---------------- texts ----------------
G = "γ = 60<sup>o</sup>"
# panel labels
text(23, 17, "(a)", 25)
text(551, 16, "(b)", 25)
text(21, 436, "(c)", 25)
text(549, 436, "(d)", 25)
text(19, 851, "(e)", 25)
text(551, 851, "(f)", 25)

# axis titles
text(32, 196, "ΔT\u0305<sub>w</sub> (K)", 25, angle=-90)
text(297, 408, "τ", 31)
text(562, 190, "N\u0305u\u0305", 29, angle=-90)
text(817, 408, "τ", 31)
for (xx, yy) in ((27, 620), (555, 623), (25, 1038)):
    text(xx, yy, "Espectro normalizado (Amplitud)", 22, angle=-90)
text(297, 822, "St", 29)
text(810, 828, "St", 29)
text(293, 1246, "St", 29)
text(561, 1032, "N\u0305u\u0305<sub>R</sub>", 29, angle=-90)
text(820, 1248, "N\u0305u\u0305<sub>L</sub>", 29)

# (a) legends
RI95 = "Ri* = 95.40 (Gr* = 4.67x10<sup>7</sup>)"
RI54 = "Ri* = 54.86 (Gr* = 2.69x10<sup>7</sup>)"
RI30 = "Ri* = 30.90 (Gr* = 1.51x10<sup>7</sup>)"
legend_line(192, 230, 90, BLUE, RI95, 13)
legend_line(197, 229, 222, RED, RI54, 13)
legend_line(202, 238, 320, BLACK, RI30, 13)
text(458, 90, G, 19)
# (b) legends
legend_line(709, 743, 120, BLUE, RI95, 13)
legend_line(701, 735, 256, RED, RI54, 13)
legend_line(797, 833, 332, BLACK, RI30, 13)
text(986, 56, G, 19)

# (c)
text(398, 520, G, 15)
text(390, 552, RI30, 15.5)
legend_line(97, 133, 718, BLACK, "Cavidad inferior (izquierda)", 15.5, width=1.2)
legend_line(97, 133, 740, BLACK, "Cavidad superior (derecha)", 15.5, dash=DASH, width=1.2)
spec_arrow("c", 0.003, 0.95, 156, 507, 150, 516, "St = 0.003", False)
spec_arrow("c", 0.007, 1.08, 214, 480, 203, 489, "St = 0.007", False)
spec_arrow("c", 0.0105, 0.95, 246, 501, 236, 510, "St = 0.01", True)

# (d)
text(977, 482, G, 15)
text(915, 545, RI54, 15.5)
legend_line(637, 674, 725, RED, "Cavidad inferior (izquierda)", 15.5, width=1.2)
legend_line(637, 674, 744, RED, "Cavidad superior (derecha)", 15.5, dash=DASH, width=1.2)
spec_arrow("d", 0.0031, 1.0, 658, 499, 660, 508, "St = 0.003", True)
spec_arrow("d", 0.005, 1.0, 701, 461, 688, 470, "St = 0.005", False)
spec_arrow("d", 0.006, 1.1, 734, 481, 722, 490, "St = 0.006", True)
spec_arrow("d", 0.015, 1.15, 783, 499, 771, 508, "St = 0.015", False)
spec_arrow("d", 0.0185, 1.0, 836, 516, 801, 518, "St = 0.018", False)

# (e)
text(442, 895, G, 15)
text(407, 962, "Ri* = 95.4 (Gr* = 4.67x10<sup>7</sup>)", 15.5)
legend_line(112, 147, 1150, BLUE, "Cavidad inferior (izquierda)", 15.5, width=1.2)
legend_line(112, 147, 1170, BLUE, "Cavidad superior (derecha)", 15.5, dash=DASH, width=1.2)
spec_arrow("e", 0.007, 1.08, 200, 903, 195, 912, "St = 0.007", False)
spec_arrow("e", 0.023, 1.08, 288, 883, 277, 892, "St = 0.023", True)
spec_arrow("e", 0.0255, 1.08, 337, 908, 298, 913, "St = 0.025", True)

# (f)
text(820, 913, G, 16)
text(943, 1062, "Ri* = 95.40 (Gr* = 4.47x10<sup>7</sup>)", 13)
text(850, 1142, RI54, 13)
text(813, 1183, RI30, 13)
for (x0, y0, x1, y1) in ((37.38, 31.47, 37.38, 30.69), (32.73, 27.92, 32.73, 27.18),
                         (29.08, 25.11, 28.15, 25.62)):
    annotations.append(dict(x=x1, y=y1, ax=x0, ay=y0, xref="x8", yref="y8",
                            axref="x8", ayref="y8", text="", showarrow=True,
                            arrowhead=2, arrowsize=1.2, arrowwidth=1, arrowcolor="black"))

lay["annotations"] = annotations
lay["shapes"] = shapes
fig.update_layout(**lay)

fig.write_html("out.html", config={"displayModeBar": False},
               post_script="document.body.style.margin='0';document.body.style.overflow='hidden';")
